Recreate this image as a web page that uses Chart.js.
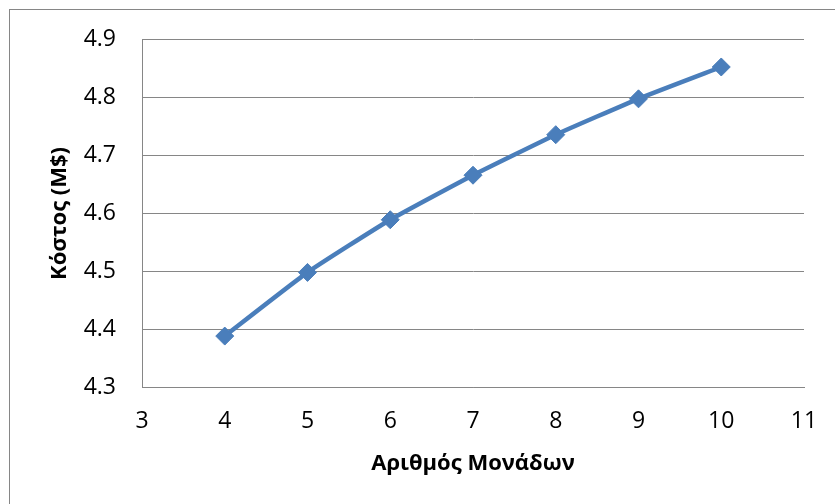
<!DOCTYPE html>
<html>
<head>
<meta charset="utf-8">
<script src="https://cdn.jsdelivr.net/npm/chart.js@4/dist/chart.umd.min.js"></script>
<style>
  html, body { margin: 0; padding: 0; background: #ffffff; }
  #wrap { position: relative; width: 835px; height: 504px; }
</style>
</head>
<body>
<div id="wrap"><canvas id="c" width="835" height="504"></canvas></div>
<script>
// Number of units vs. cost (millions of dollars)
const units = [4, 5, 6, 7, 8, 9, 10];
const cost = [4.388, 4.498, 4.589, 4.666, 4.736, 4.798, 4.853];

const xTitle = 'Αριθμός Μονάδων';
const yTitle = 'Κόστος (M$)';
const xMin = 3, xMax = 11, xStep = 1;
const yMin = 4.3, yMax = 4.9, yStep = 0.1;

const lineColor = '#4A7EBB';
const gridColor = '#868686';
const fontFamily = "'Open Sans', 'DejaVu Sans', sans-serif";

const points = units.map((u, i) => ({ x: u, y: cost[i] }));

// Outer frame of the chart area
const framePlugin = {
  id: 'frame',
  beforeDraw(chart) {
    const ctx = chart.ctx;
    ctx.save();
    ctx.fillStyle = '#ffffff';
    ctx.fillRect(0, 0, chart.width, chart.height);
    ctx.strokeStyle = gridColor;
    ctx.lineWidth = 1;
    ctx.strokeRect(9.5, 9.5, chart.width + 20, chart.height + 20);
    ctx.restore();
  }
};

new Chart(document.getElementById('c'), {
  type: 'line',
  data: {
    datasets: [{
      data: points,
      borderColor: lineColor,
      backgroundColor: lineColor,
      borderWidth: 4.5,
      tension: 0.15,
      pointStyle: 'rectRot',
      pointRadius: 9,
      pointBorderWidth: 1,
      pointBorderColor: lineColor,
      pointBackgroundColor: lineColor,
      clip: false
    }]
  },
  options: {
    responsive: false,
    animation: false,
    devicePixelRatio: 1,
    layout: { padding: { left: 40, top: 39, right: 31, bottom: 10 } },
    plugins: { legend: { display: false }, tooltip: { enabled: false } },
    scales: {
      x: {
        type: 'linear',
        min: xMin, max: xMax,
        afterFit(scale) { scale.height = 107; },
        ticks: {
          stepSize: xStep,
          padding: 0,
          color: '#000000',
          font: { family: fontFamily, size: 23 },
          maxRotation: 0
        },
        // invisible tick marks keep the labels clear of the axis line
        grid: {
          display: true,
          drawOnChartArea: false,
          drawTicks: true,
          tickLength: 21,
          tickColor: 'rgba(0,0,0,0)',
          color: 'rgba(0,0,0,0)'
        },
        border: { display: true, color: gridColor, width: 1 },
        title: {
          display: true,
          text: xTitle,
          color: '#000000',
          font: { family: fontFamily, size: 22, weight: 'bold' },
          padding: { top: 0, bottom: 17 }
        }
      },
      y: {
        type: 'linear',
        min: yMin, max: yMax,
        afterFit(scale) { scale.width = 102; },
        ticks: {
          stepSize: yStep,
          padding: 26,
          color: '#000000',
          font: { family: fontFamily, size: 23 },
          callback: v => Number(v).toFixed(1)
        },
        grid: { color: gridColor, lineWidth: 1, drawTicks: false },
        border: { display: true, color: gridColor, width: 1 },
        title: {
          display: true,
          text: yTitle,
          color: '#000000',
          font: { family: fontFamily, size: 22, weight: 'bold' },
          padding: { top: 7, bottom: 0 }
        }
      }
    }
  },
  plugins: [framePlugin]
});
</script>
</body>
</html>
